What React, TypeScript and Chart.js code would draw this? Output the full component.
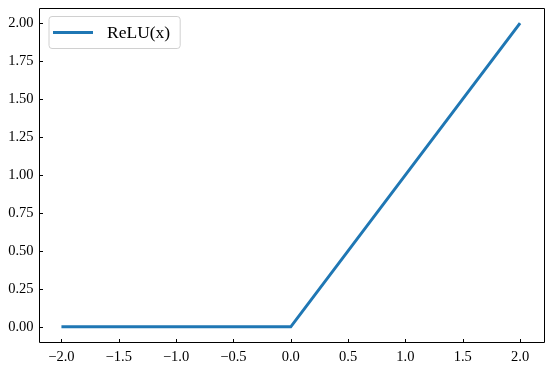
import React, { useEffect, useRef } from "react";
import { Chart, registerables } from "chart.js";

Chart.register(...registerables);

const xValues = [-2, 0, 2];
const yValues = [0, 0, 2];
const xTicks = [-2, -1.5, -1, -0.5, 0, 0.5, 1, 1.5, 2];
const yTicks = [0, 0.25, 0.5, 0.75, 1, 1.25, 1.5, 1.75, 2];
const seriesLabel = "ReLU(x)";

const FONT = "'Liberation Serif', 'Times New Roman', serif";
const LINE_COLOR = "#1f77b4";

const fmt = (v: number, d: number) => v.toFixed(d).replace("-", "\u2212");

const framePlugin = {
  id: "frame",
  afterDraw(chart: any) {
    const { ctx, chartArea } = chart;
    const { left, right, top, bottom } = chartArea;
    const xs = chart.scales.x;
    const ys = chart.scales.y;
    ctx.save();
    ctx.strokeStyle = "#000";
    ctx.lineWidth = 1;
    ctx.beginPath();
    ctx.rect(Math.round(left) + 0.5, Math.round(top) + 0.5, Math.round(right - left), Math.round(bottom - top));
    ctx.stroke();
    const tl = 3.5;
    ctx.beginPath();
    for (const v of xTicks) {
      const px = Math.round(xs.getPixelForValue(v)) + 0.5;
      ctx.moveTo(px, Math.round(bottom) + 0.5);
      ctx.lineTo(px, Math.round(bottom) + 0.5 - tl);
    }
    for (const v of yTicks) {
      const py = Math.round(ys.getPixelForValue(v)) + 0.5;
      ctx.moveTo(Math.round(left) + 0.5, py);
      ctx.lineTo(Math.round(left) + 0.5 + tl, py);
    }
    ctx.stroke();

    // legend
    const label = chart.data.datasets[0].label;
    ctx.font = `17.5px ${FONT}`;
    const tw = ctx.measureText(label).width;
    const x0 = left + 10.5;
    const y0 = top + 8.5;
    const w = 58 + tw + 10;
    const h = 32;
    ctx.fillStyle = "rgba(255,255,255,0.8)";
    ctx.strokeStyle = "#d0d0d0";
    ctx.lineWidth = 1;
    ctx.beginPath();
    (ctx as any).roundRect(x0, y0, w, h, 3);
    ctx.fill();
    ctx.stroke();
    ctx.strokeStyle = LINE_COLOR;
    ctx.lineWidth = 3;
    ctx.beginPath();
    ctx.moveTo(x0 + 4, y0 + h / 2);
    ctx.lineTo(x0 + 44, y0 + h / 2);
    ctx.stroke();
    ctx.fillStyle = "#000";
    ctx.textBaseline = "middle";
    ctx.textAlign = "left";
    ctx.fillText(label, x0 + 58, y0 + h / 2 + 1);
    ctx.restore();
  },
};

export default function App() {
  const ref = useRef<HTMLCanvasElement | null>(null);
  useEffect(() => {
    document.body.style.margin = "0";
    if (!ref.current) return;
    const chart = new Chart(ref.current, {
      type: "line",
      data: {
        datasets: [
          {
            label: seriesLabel,
            data: xValues.map((x, i) => ({ x, y: yValues[i] })),
            borderColor: LINE_COLOR,
            backgroundColor: LINE_COLOR,
            borderWidth: 3,
            pointRadius: 0,
            tension: 0,
            fill: false,
          },
        ],
      },
      options: {
        animation: false,
        responsive: false,
        maintainAspectRatio: false,
        layout: { padding: { left: 0, top: 8, right: 7, bottom: 0 } },
        plugins: { legend: { display: false }, tooltip: { enabled: false } },
        scales: {
          x: {
            type: "linear",
            min: -2.2,
            max: 2.2,
            afterBuildTicks: (s: any) => {
              s.ticks = xTicks.map((v) => ({ value: v }));
            },
            afterFit: (s: any) => {
              s.height = 26;
              s.paddingLeft = 0;
              s.paddingRight = 0;
            },
            grid: { display: false, drawTicks: false },
            border: { display: false },
            ticks: {
              padding: 6,
              color: "#000",
              font: { family: FONT, size: 14.5 },
              maxRotation: 0,
              autoSkip: false,
              callback: (v: any) => fmt(Number(v), 1),
            },
          },
          y: {
            type: "linear",
            min: -0.1,
            max: 2.1,
            afterBuildTicks: (s: any) => {
              s.ticks = yTicks.map((v) => ({ value: v }));
            },
            afterFit: (s: any) => {
              s.width = 38.5;
              s.paddingTop = 0;
              s.paddingBottom = 0;
            },
            grid: { display: false, drawTicks: false },
            border: { display: false },
            ticks: {
              padding: 5,
              color: "#000",
              font: { family: FONT, size: 14.5 },
              autoSkip: false,
              callback: (v: any) => fmt(Number(v), 2),
            },
          },
        },
      },
      plugins: [framePlugin],
    });
    return () => chart.destroy();
  }, []);
  return (
    <div style={{ width: 550, height: 368 }}>
      <canvas ref={ref} width={550} height={368} style={{ display: "block" }} />
    </div>
  );
}
